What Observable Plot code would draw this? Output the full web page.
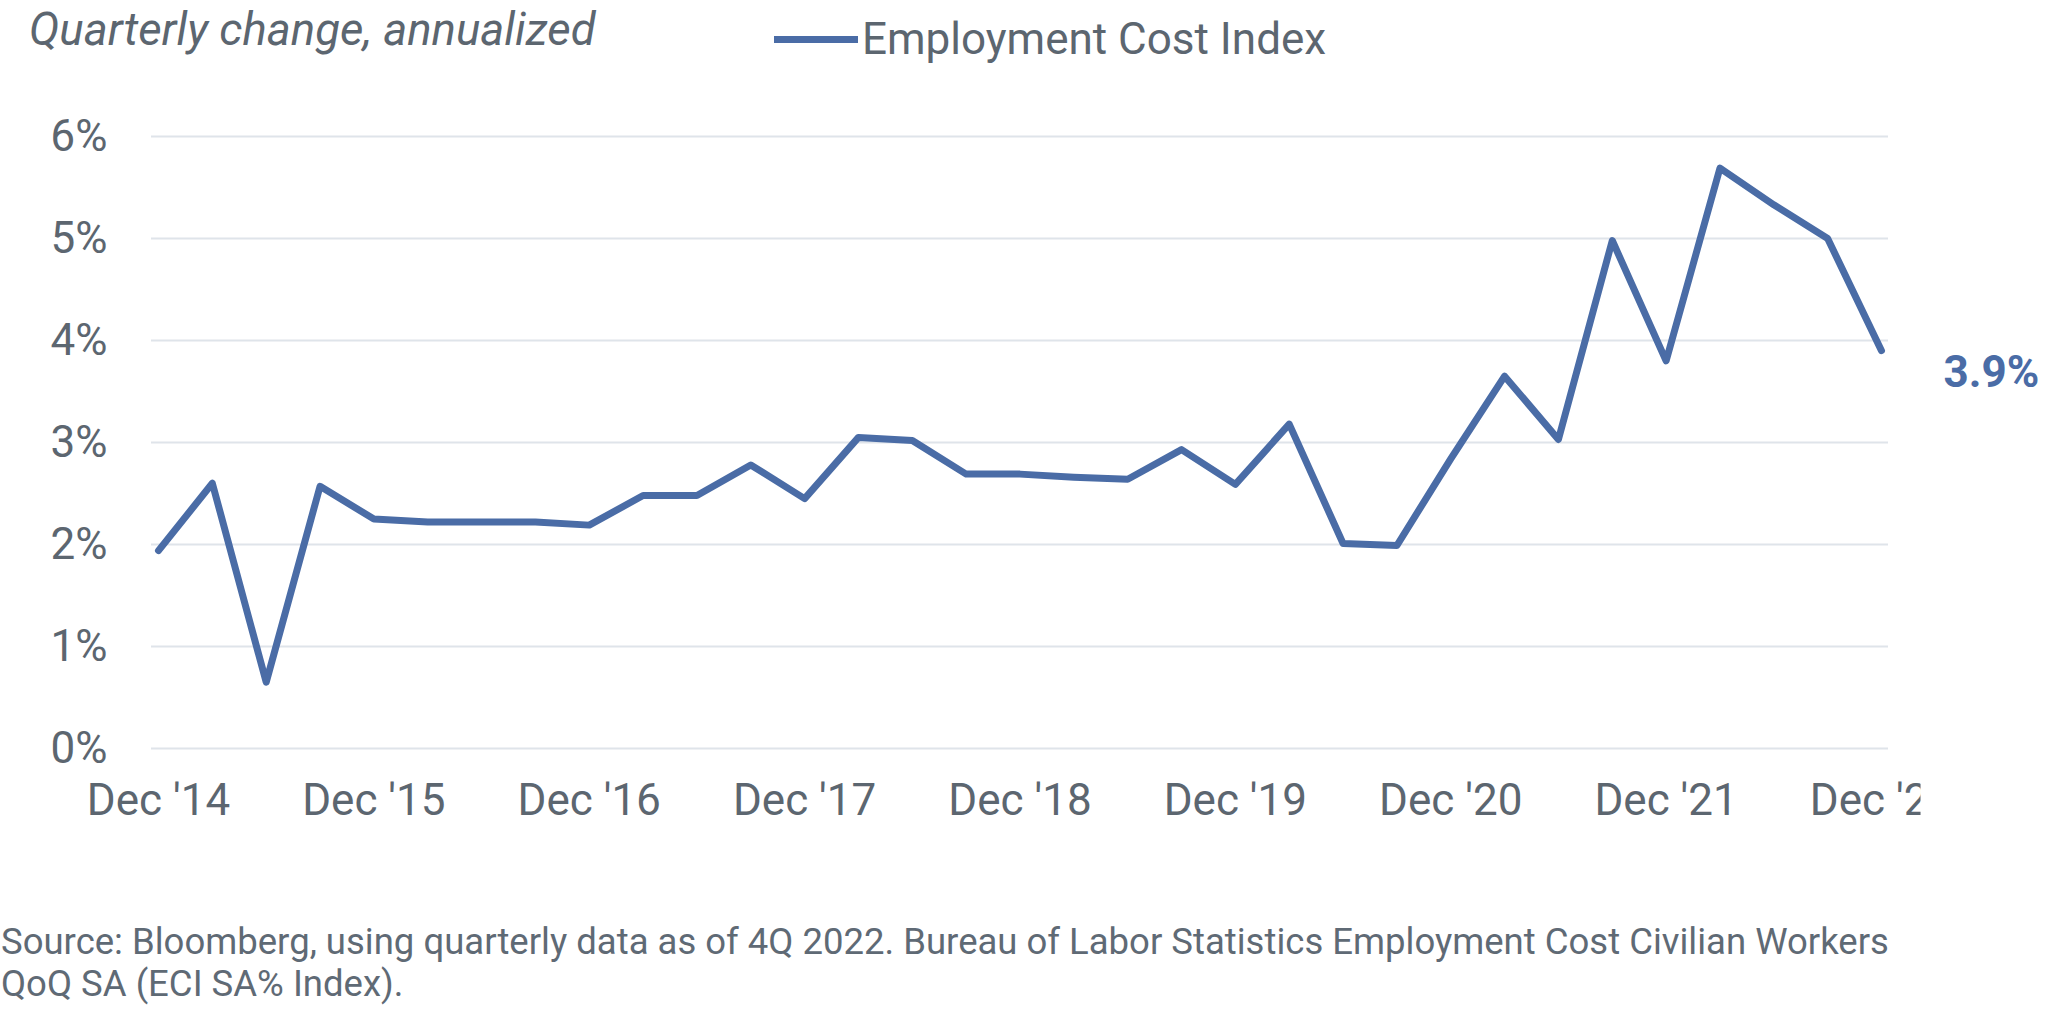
<!DOCTYPE html>
<html>
<head>
<meta charset="utf-8">
<script src="https://cdn.jsdelivr.net/npm/d3@7"></script>
<script src="https://cdn.jsdelivr.net/npm/@observablehq/plot@0.6"></script>
<style>
  body { margin: 0; background: #fff; font-family: Roboto, "Noto Sans", sans-serif; color: #5c6670; }
  #wrap { position: relative; width: 2048px; height: 1022px; overflow: hidden; background: #fff; }
  #head { position: relative; height: 80px; }
  #title { position: absolute; left: 29px; top: 7px; font-size: 45.5px; line-height: 45.5px; font-style: italic; white-space: nowrap; }
  #swatch { position: absolute; left: 774px; top: 36px; width: 84px; height: 7px; background: #4a6ca6; }
  #legtext { position: absolute; left: 862px; top: 17px; font-size: 44px; line-height: 44px; white-space: nowrap; }
  #foot { position: absolute; left: 1px; top: 921px; font-size: 36.5px; line-height: 42px; color: #5f6a75; width: 2040px; white-space: nowrap; }
</style>
</head>
<body>
<div id="wrap">
  <div id="head">
    <div id="title"></div>
    <div id="swatch"></div>
    <div id="legtext"></div>
  </div>
  <div id="chart"></div>
  <div id="foot"></div>
</div>
<script>
const titleText = "Quarterly change, annualized";
const seriesName = "Employment Cost Index";
const footLines = [
  "Source: Bloomberg, using quarterly data as of 4Q 2022. Bureau of Labor Statistics Employment Cost Civilian Workers",
  "QoQ SA (ECI SA% Index)."
];

const quarters = [
  "Dec '14","Mar '15","Jun '15","Sep '15",
  "Dec '15","Mar '16","Jun '16","Sep '16",
  "Dec '16","Mar '17","Jun '17","Sep '17",
  "Dec '17","Mar '18","Jun '18","Sep '18",
  "Dec '18","Mar '19","Jun '19","Sep '19",
  "Dec '19","Mar '20","Jun '20","Sep '20",
  "Dec '20","Mar '21","Jun '21","Sep '21",
  "Dec '21","Mar '22","Jun '22","Sep '22",
  "Dec '22"
];
const eci = [
  1.94, 2.60, 0.65, 2.57,
  2.25, 2.22, 2.22, 2.22,
  2.19, 2.48, 2.48, 2.78,
  2.45, 3.05, 3.02, 2.69,
  2.69, 2.66, 2.64, 2.93,
  2.59, 3.18, 2.01, 1.99,
  2.84, 3.65, 3.03, 4.98,
  3.80, 5.69, 5.33, 5.00,
  3.90
];
const yTicks = [0, 1, 2, 3, 4, 5, 6];
const xTickIdx = [0, 4, 8, 12, 16, 20, 24, 28, 32];

document.getElementById("title").textContent = titleText;
document.getElementById("legtext").textContent = seriesName;
document.getElementById("foot").innerHTML = footLines.map(s => `<div>${s}</div>`).join("");

const lineColor = "#4a6ca6";
const textColor = "#5c6670";
const data = eci.map((v, i) => ({ i, q: quarters[i], v }));

const chart = Plot.plot({
  width: 2048,
  height: 780,
  marginLeft: 151,
  marginRight: 160,
  marginTop: 56,
  marginBottom: 112,
  style: { fontFamily: "Roboto, sans-serif", fontSize: "44px", color: textColor, background: "white", overflow: "visible" },
  x: { type: "linear", domain: [-0.13, 32.13] },
  y: { domain: [0, 6] },
  marks: [
    Plot.gridY(yTicks, { stroke: "#dfe4ea", strokeOpacity: 1, strokeWidth: 2 }),
    Plot.axisY(yTicks, { tickSize: 0, tickPadding: 44, tickFormat: d => d + "%", label: null, fontSize: 44, fill: textColor }),
    Plot.axisX(xTickIdx, { tickSize: 0, tickPadding: 35, tickFormat: i => quarters[i], label: null, fontSize: 44, fill: textColor }),
    Plot.lineY(data, { x: "i", y: "v", stroke: lineColor, strokeWidth: 7, strokeLinejoin: "round", strokeLinecap: "round" }),
    Plot.text(data.slice(-1), { x: "i", y: "v", text: d => d.v.toFixed(1) + "%", dx: 62, dy: 22, textAnchor: "start", fill: lineColor, fontWeight: "bold", fontSize: 44 })
  ]
});
document.getElementById("chart").appendChild(chart);

// the last tick label is cut off at the right edge in the original
const svg = d3.select(chart);
svg.append("defs").append("clipPath").attr("id", "xclip")
  .append("rect").attr("x", 0).attr("y", 0).attr("width", 1920).attr("height", 780);
svg.select('g[aria-label="x-axis tick label"]').attr("clip-path", "url(#xclip)");
</script>
</body>
</html>
